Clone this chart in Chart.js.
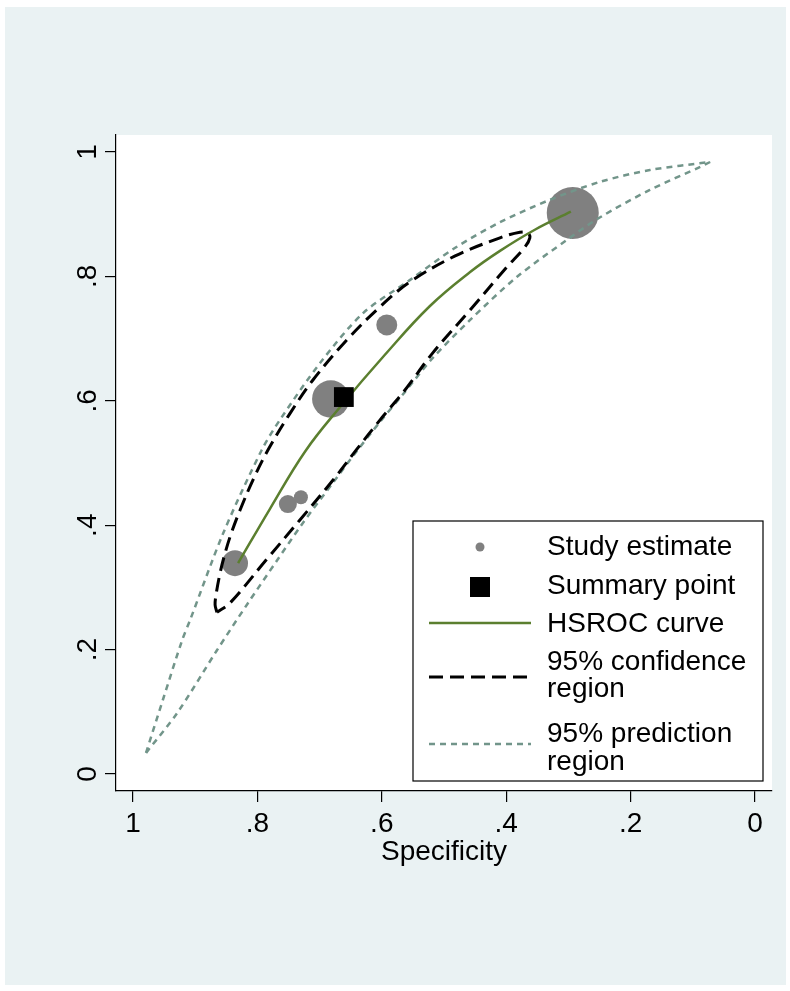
<!DOCTYPE html>
<html lang="en">
<head>
<meta charset="UTF-8">
<title>HSROC plot</title>
<style>
    body { margin: 0; background: #fff; }
    canvas { display: block; }
</style>
</head>
<body>
<canvas id="roc" width="790" height="991"></canvas>
<script src="https://cdn.jsdelivr.net/npm/chart.js"></script>
<script>
// Axis ticks
const xTicks = [1, 0.8, 0.6, 0.4, 0.2, 0];
const xTickLabels = ['1', '.8', '.6', '.4', '.2', '0'];
const yTicks = [0, 0.2, 0.4, 0.6, 0.8, 1];
const yTickLabels = ['0', '.2', '.4', '.6', '.8', '1'];

// Study estimates
const studySpec = [0.293, 0.682, 0.592, 0.751, 0.730, 0.836];
const studySens = [0.902, 0.603, 0.722, 0.434, 0.445, 0.339];
const studyWeight = [400, 207, 65, 48, 29, 100];

// Summary point
const summarySpec = [0.661];
const summarySens = [0.606];

// HSROC curve
const hsrocSpec = [0.831, 0.780, 0.723, 0.667, 0.595, 0.523, 0.458, 0.410, 0.354, 0.296];
const hsrocSens = [0.339, 0.426, 0.519, 0.590, 0.674, 0.752, 0.807, 0.841, 0.875, 0.904];

// 95% confidence region (closed)
const confSpec = [0.865, 0.868, 0.866, 0.860, 0.852, 0.842, 0.828, 0.807, 0.783, 0.748, 0.711, 0.656, 0.603,
                  0.555, 0.482, 0.410, 0.378, 0.365, 0.362, 0.370, 0.399, 0.458, 0.518, 0.563, 0.603, 0.641,
                  0.678, 0.732, 0.786, 0.844, 0.865];
const confSens = [0.260, 0.272, 0.291, 0.323, 0.355, 0.387, 0.424, 0.473, 0.521, 0.579, 0.633, 0.698, 0.751,
                  0.791, 0.833, 0.862, 0.871, 0.870, 0.862, 0.847, 0.815, 0.746, 0.677, 0.617, 0.569, 0.521,
                  0.473, 0.408, 0.344, 0.275, 0.260];

// 95% prediction region, upper and lower edges
const predUpSpec = [0.979, 0.952, 0.921, 0.908, 0.855, 0.793, 0.764, 0.699, 0.630, 0.555, 0.482, 0.410, 0.330, 0.249, 0.169, 0.072];
const predUpSens = [0.034, 0.119, 0.215, 0.248, 0.387, 0.521, 0.569, 0.661, 0.741, 0.794, 0.846, 0.887, 0.923, 0.952, 0.971, 0.984];
const predLoSpec = [0.979, 0.929, 0.865, 0.815, 0.768, 0.728, 0.678, 0.641, 0.603, 0.563, 0.518, 0.458, 0.383, 0.302, 0.249, 0.169, 0.088, 0.072];
const predLoSens = [0.034, 0.098, 0.199, 0.275, 0.344, 0.402, 0.469, 0.518, 0.566, 0.614, 0.669, 0.730, 0.799, 0.859, 0.895, 0.939, 0.976, 0.984];

const FAMILY = '"Liberation Sans", Arial, sans-serif';
const FONT = '28px ' + FAMILY;
const GRAY = '#808080';
const GREEN = '#5b7f2f';
const PRED = '#72958a';

const pts = (xs, ys) => xs.map((x, i) => ({ x: x, y: ys[i] }));

// Background, plot region, rotated y labels and the legend
const stataPlugin = {
    id: 'stata',
    beforeDraw(chart) {
        const { ctx, chartArea: a } = chart;
        ctx.save();
        ctx.fillStyle = '#fff';
        ctx.fillRect(0, 0, chart.width, chart.height);
        ctx.fillStyle = '#eaf2f3';
        ctx.fillRect(5, 7, 781, 978);
        ctx.fillStyle = '#fff';
        ctx.fillRect(a.left, a.top, a.right - a.left, a.bottom - a.top);
        ctx.restore();
    },
    afterDraw(chart) {
        const { ctx, chartArea: a } = chart;
        const y = chart.scales.y;
        ctx.save();
        ctx.fillStyle = '#000';
        ctx.font = FONT;
        ctx.textAlign = 'center';
        ctx.textBaseline = 'alphabetic';
        yTicks.forEach((v, i) => {
            ctx.save();
            ctx.translate(a.left - 20, y.getPixelForValue(v));
            ctx.rotate(-Math.PI / 2);
            ctx.fillText(yTickLabels[i], 0, 0);
            ctx.restore();
        });

        // legend box
        const bx = a.right - 359, by = a.bottom - 270, bw = 350, bh = 260;
        ctx.fillStyle = '#fff';
        ctx.fillRect(bx, by, bw, bh);
        ctx.strokeStyle = '#000';
        ctx.lineWidth = 1.2;
        ctx.strokeRect(bx, by, bw, bh);

        const sx = bx + 67, tx = bx + 134;
        ctx.fillStyle = GRAY;
        ctx.beginPath();
        ctx.arc(sx, by + 26, 4.5, 0, Math.PI * 2);
        ctx.fill();
        ctx.fillStyle = '#000';
        ctx.fillRect(sx - 10, by + 56, 20, 20);

        const seg = (yy, color, w, dash) => {
            ctx.beginPath();
            ctx.strokeStyle = color;
            ctx.lineWidth = w;
            ctx.setLineDash(dash);
            ctx.moveTo(bx + 16, yy);
            ctx.lineTo(bx + 118, yy);
            ctx.stroke();
        };
        seg(by + 102, GREEN, 2.5, []);
        seg(by + 156, '#000', 3, [14, 7]);
        seg(by + 223, PRED, 2.5, [6, 5]);
        ctx.setLineDash([]);

        ctx.fillStyle = '#000';
        ctx.textAlign = 'left';
        ctx.fillText('Study estimate', tx, by + 34);
        ctx.fillText('Summary point', tx, by + 73);
        ctx.fillText('HSROC curve', tx, by + 111);
        ctx.fillText('95% confidence', tx, by + 149);
        ctx.fillText('region', tx, by + 176);
        ctx.fillText('95% prediction', tx, by + 221);
        ctx.fillText('region', tx, by + 249);
        ctx.restore();
    }
};

const ctx = document.getElementById('roc').getContext('2d');
new Chart(ctx, {
    type: 'scatter',
    data: {
        datasets: [
            {
                type: 'bubble',
                label: 'Study estimate',
                data: studySpec.map((x, i) => ({ x: x, y: studySens[i], r: 1.3 * Math.sqrt(studyWeight[i]) })),
                backgroundColor: GRAY,
                borderWidth: 0,
                order: 10
            },
            {
                label: '95% prediction region',
                data: pts(predUpSpec, predUpSens),
                showLine: true,
                pointRadius: 0,
                borderColor: PRED,
                borderWidth: 2.5,
                borderDash: [6, 5],
                tension: 0.3,
                order: 4
            },
            {
                label: '95% prediction region (lower)',
                data: pts(predLoSpec, predLoSens),
                showLine: true,
                pointRadius: 0,
                borderColor: PRED,
                borderWidth: 2.5,
                borderDash: [6, 5],
                tension: 0.3,
                order: 4
            },
            {
                label: '95% confidence region',
                data: pts(confSpec, confSens),
                showLine: true,
                pointRadius: 0,
                borderColor: '#000',
                borderWidth: 3,
                borderDash: [14, 7],
                tension: 0.35,
                order: 3
            },
            {
                label: 'HSROC curve',
                data: pts(hsrocSpec, hsrocSens),
                showLine: true,
                pointRadius: 0,
                borderColor: GREEN,
                borderWidth: 2.5,
                tension: 0.4,
                order: 2
            },
            {
                label: 'Summary point',
                data: pts(summarySpec, summarySens),
                pointStyle: 'rect',
                pointRadius: 14,
                backgroundColor: '#000',
                borderWidth: 0,
                order: 1
            }
        ]
    },
    options: {
        responsive: false,
        animation: false,
        devicePixelRatio: 1,
        layout: { autoPadding: false, padding: { left: 0, top: 135, right: 18, bottom: 122 } },
        plugins: {
            legend: { display: false },
            tooltip: { enabled: false }
        },
        scales: {
            x: {
                type: 'linear',
                reverse: true,
                min: -0.0273,
                max: 1.0273,
                afterBuildTicks: (s) => { s.ticks = xTicks.map(v => ({ value: v })); },
                afterFit: (s) => { s.height = 78; },
                ticks: {
                    color: '#000',
                    font: { family: FAMILY, size: 28 },
                    padding: 5,
                    maxRotation: 0,
                    callback: (v) => xTickLabels[xTicks.indexOf(v)]
                },
                grid: { drawOnChartArea: false, tickLength: 11, color: '#000', lineWidth: 1.2 },
                border: { display: true, color: '#000', width: 1.2 },
                title: {
                    display: true,
                    text: 'Specificity',
                    color: '#000',
                    font: { family: FAMILY, size: 28 },
                    padding: 0
                }
            },
            y: {
                type: 'linear',
                min: -0.0273,
                max: 1.0273,
                afterBuildTicks: (s) => { s.ticks = yTicks.map(v => ({ value: v })); },
                afterFit: (s) => { s.width = 116; },
                ticks: { display: false },
                grid: { drawOnChartArea: false, tickLength: 11, color: '#000', lineWidth: 1.2 },
                border: { display: true, color: '#000', width: 1.2 }
            }
        }
    },
    plugins: [stataPlugin]
});
</script>
</body>
</html>
